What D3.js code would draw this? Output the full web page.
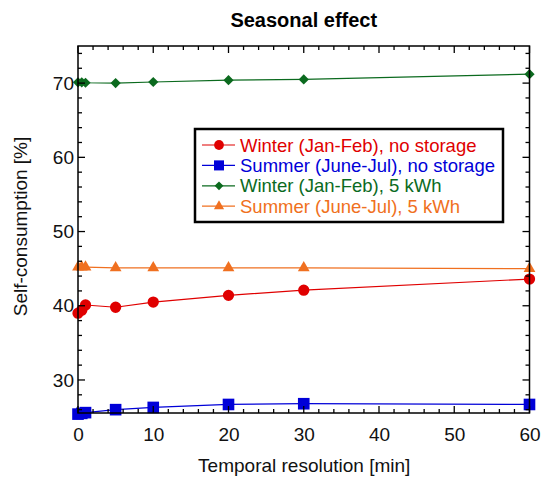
<!DOCTYPE html>
<html><head><meta charset="utf-8">
<script src="https://cdn.jsdelivr.net/npm/d3@7"></script>
<style>body{margin:0;background:#fff}svg{display:block;font-family:"Liberation Sans",Arial,sans-serif}</style>
</head><body><svg id="c" width="543" height="477"></svg>
<script>
const resolutions = [0, 0.5, 1, 5, 10, 20, 30, 60];
const winterNoStorage = [39.0, 39.4, 40.1, 39.8, 40.5, 41.4, 42.1, 43.6];
const summerNoStorage = [25.4, 25.5, 25.6, 26.0, 26.3, 26.7, 26.8, 26.7];
const winter5kWh = [70.1, 70.1, 70.05, 70.0, 70.15, 70.4, 70.5, 71.2];
const summer5kWh = [45.2, 45.2, 45.2, 45.1, 45.1, 45.1, 45.1, 45.0];
const seriesNames = ["Winter (Jan-Feb), no storage","Summer (June-Jul), no storage","Winter (Jan-Feb), 5 kWh","Summer (June-Jul), 5 kWh"];
const xTicks = [0,10,20,30,40,50,60];
const yTicks = [30,40,50,60,70];

const series = [
  {name:seriesNames[0], values:winterNoStorage, color:"#e00000", sym:d3.symbolCircle, size:100, rot:0},
  {name:seriesNames[1], values:summerNoStorage, color:"#0000d8", sym:d3.symbolSquare, size:135, rot:0},
  {name:seriesNames[2], values:winter5kWh, color:"#0b6a1e", sym:d3.symbolSquare, size:52, rot:45},
  {name:seriesNames[3], values:summer5kWh, color:"#f07020", sym:d3.symbolTriangle, size:60, rot:0},
];

const svg = d3.select("#c");
const L=78, R=529.5, T=46, B=413;
const x = d3.scaleLinear().domain([0,60]).range([L,R]);
const y = d3.scaleLinear().domain([25.55,75]).range([B,T]);

const line = d3.line().x((d,i)=>x(resolutions[i])).y(d=>y(d));
const g = svg.append("g");
series.forEach(s=>{
  g.append("path").attr("d",line(s.values)).attr("fill","none").attr("stroke",s.color).attr("stroke-width",1.2);
});
series.forEach(s=>{
  g.selectAll(null).data(s.values).enter().append("path")
    .attr("d",d3.symbol().type(s.sym).size(s.size))
    .attr("transform",(d,i)=>`translate(${x(resolutions[i])},${y(d)}) rotate(${s.rot})`)
    .attr("fill",s.color);
});

svg.append("rect").attr("x",L).attr("y",T).attr("width",R-L).attr("height",B-T)
  .attr("fill","none").attr("stroke","#000").attr("stroke-width",1.5);

const tk = svg.append("g").attr("stroke","#000").attr("stroke-width",1.3);
d3.range(0,61,2).forEach(v=>{
  const len = v%10===0 ? 7 : 4;
  tk.append("line").attr("x1",x(v)).attr("x2",x(v)).attr("y1",B).attr("y2",B-len);
  tk.append("line").attr("x1",x(v)).attr("x2",x(v)).attr("y1",T).attr("y2",T+len);
});
d3.range(26,75.1,2).forEach(v=>{
  const len = v%10===0 ? 7 : 4;
  tk.append("line").attr("y1",y(v)).attr("y2",y(v)).attr("x1",L).attr("x2",L+len);
  tk.append("line").attr("y1",y(v)).attr("y2",y(v)).attr("x1",R).attr("x2",R-len);
});

const xa = svg.append("g").attr("transform",`translate(0,${B})`)
  .call(d3.axisBottom(x).tickValues(xTicks).tickSize(0).tickPadding(15));
xa.select(".domain").remove();
xa.selectAll("text").attr("font-size",19).attr("fill","#111").attr("font-family","Liberation Sans, Arial");
const ya = svg.append("g").attr("transform",`translate(${L},0)`)
  .call(d3.axisLeft(y).tickValues(yTicks).tickSize(0).tickPadding(4));
ya.select(".domain").remove();
ya.selectAll("text").attr("font-size",19).attr("fill","#111").attr("font-family","Liberation Sans, Arial");

svg.append("text").attr("x",(L+R)/2).attr("y",27).attr("text-anchor","middle")
  .attr("font-size",20).attr("font-weight","bold").text("Seasonal effect");
svg.append("text").attr("x",(L+R)/2+0.5).attr("y",472).attr("text-anchor","middle")
  .attr("font-size",19).attr("fill","#111").text("Temporal resolution [min]");
svg.append("text").attr("transform",`translate(27,${(T+B)/2 - 3}) rotate(-90)`).attr("text-anchor","middle")
  .attr("font-size",19).attr("fill","#111").text("Self-consumption [%]");

const lg = svg.append("g").attr("transform","translate(195,129)");
lg.append("rect").attr("width",308).attr("height",93).attr("fill","#fff").attr("stroke","#000").attr("stroke-width",2.5);
series.forEach((s,i)=>{
  const yy = 16 + i*20.4;
  lg.append("line").attr("x1",7).attr("x2",40).attr("y1",yy).attr("y2",yy).attr("stroke",s.color).attr("stroke-width",1.2);
  lg.append("path").attr("d",d3.symbol().type(s.sym).size(s.size*0.75)).attr("transform",`translate(24,${yy}) rotate(${s.rot})`).attr("fill",s.color);
  lg.append("text").attr("x",45).attr("y",yy+6.5).attr("font-size",18.5).attr("fill",s.color).text(s.name);
});
</script></body></html>
